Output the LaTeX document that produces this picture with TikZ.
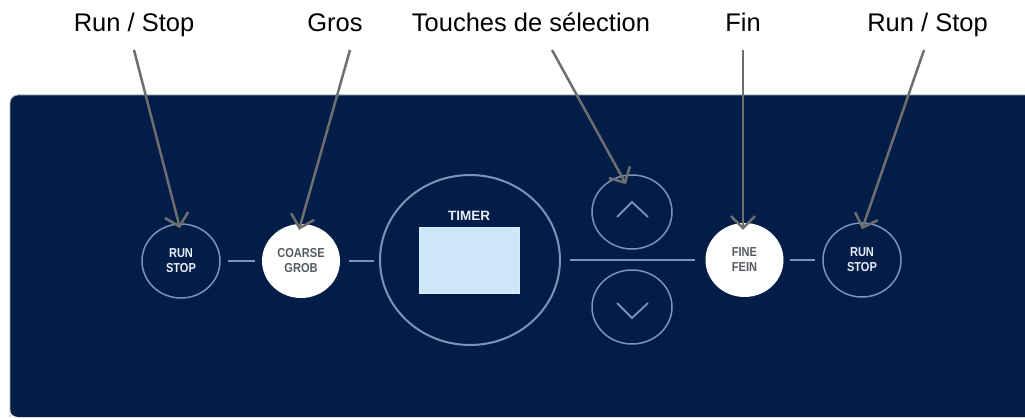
\documentclass[tikz,border=0pt]{standalone}
\usepackage{fontspec}
\setmainfont{Liberation Sans}
\newfontfamily\btnfont[FakeStretch=0.85]{Liberation Sans}
\usetikzlibrary{shapes.geometric,arrows.meta,calc}
\definecolor{panel}{RGB}{2,30,72}
\definecolor{rim}{RGB}{125,148,185}
\definecolor{arrowgray}{RGB}{110,110,110}
\definecolor{lcd}{RGB}{205,230,248}
\definecolor{btntext}{RGB}{85,90,98}
\definecolor{ringtext}{RGB}{232,236,244}
\definecolor{edge}{RGB}{160,170,185}
\begin{document}
\begin{tikzpicture}[x=1pt,y=-1pt,
  lbl/.style={font=\fontsize{25.5}{30}\selectfont, anchor=base, inner sep=0pt, text=black},
  btn/.style={ellipse, minimum width=78pt, minimum height=74pt, inner sep=0pt, align=center,
    font=\btnfont\bfseries\fontsize{13}{15}\selectfont},
  ring/.style={btn, draw=rim, line width=1.5pt, text=ringtext},
  solid btn/.style={btn, fill=white, text=btntext},
  arrowbtn/.style={ellipse, draw=rim, line width=1.5pt, minimum width=80pt, minimum height=74pt, inner sep=0pt},
  link/.style={draw=rim, line width=2pt},
  callout/.style={draw=arrowgray, line width=2.5pt, -{Straight Barb[length=12pt,width=24pt,line width=2.5pt]}},
  chev/.style={draw=rim, line width=1.8pt},
]
\useasboundingbox (0,0) rectangle (1025,419);
% panel
\fill[panel] (1025,95) [rounded corners=8pt] -- (10,95) -- (10,417) [sharp corners] -- (1025,417) -- cycle;
\draw[edge, line width=0.8pt] (1025,95) [rounded corners=8pt] -- (10,95) -- (10,417);

% buttons
\node[ring] (rs1) at (181,261) {RUN\\STOP};
\node[solid btn] (coarse) at (301,261) {COARSE\\GROB};
\node[ellipse, draw=rim, line width=2pt, minimum width=180pt, minimum height=170pt, inner sep=0pt] (timer) at (470,260) {};
\node[draw=lcd!70!white, line width=0.6pt, fill=lcd, minimum width=100pt, minimum height=66pt, inner sep=0pt] (lcd) at (469,260) {};
\node[font=\bfseries\fontsize{13.5}{15}\selectfont, text=ringtext, anchor=base, inner sep=0pt] (timerlbl) at (469,221) {TIMER};
\node[arrowbtn] (up) at (632,212) {};
\node[arrowbtn] (down) at (632,307) {};
\node[solid btn] (fine) at (744.5,260) {FINE\\FEIN};
\node[ring] (rs2) at (862,260) {RUN\\STOP};

% chevrons
\draw[chev] ($(up)+(-15,5)$) -- ($(up)+(0,-10)$) -- ($(up)+(16,5)$);
\draw[chev] ($(down)+(-15,-4)$) -- ($(down)+(0,11)$) -- ($(down)+(16,-4)$);

% links
\draw[link, shorten <=7pt, shorten >=7pt] (rs1.east) -- (coarse.west);
\draw[link, shorten <=9pt, shorten >=5pt] (coarse.east) -- (coarse.east -| timer.west);
\draw[link, shorten <=9pt, shorten >=10pt] (timer.east) -- (fine.west);
\draw[link, shorten <=6pt, shorten >=7pt] (fine.east) -- (rs2.west);

% labels
\node[lbl] (l1) at (134,32) {Run / Stop};
\node[lbl] (l2) at (335,32) {Gros};
\node[lbl] (l3) at (531,32) {Touches de sélection};
\node[lbl] (l4) at (743,32) {Fin};
\node[lbl] (l5) at (927.5,32) {Run / Stop};

\coordinate (s1) at (134,50);
\coordinate (s2) at (350,50);
\coordinate (s3) at (552,50);
\coordinate (s4) at (743,50);
\coordinate (s5) at (924,50);

\draw[callout] (s1) -- ($(rs1.north)+(-1,5)$);
\draw[callout] (s2) -- ($(coarse.north)+(-2,6)$);
\draw[callout] (s3) -- ($(up.north)+(-6,10)$);
\draw[callout] (s4) -- ($(fine.north)+(-1.5,7)$);
\draw[callout] (s5) -- ($(rs2.north)+(0,7)$);
\end{tikzpicture}
\end{document}
